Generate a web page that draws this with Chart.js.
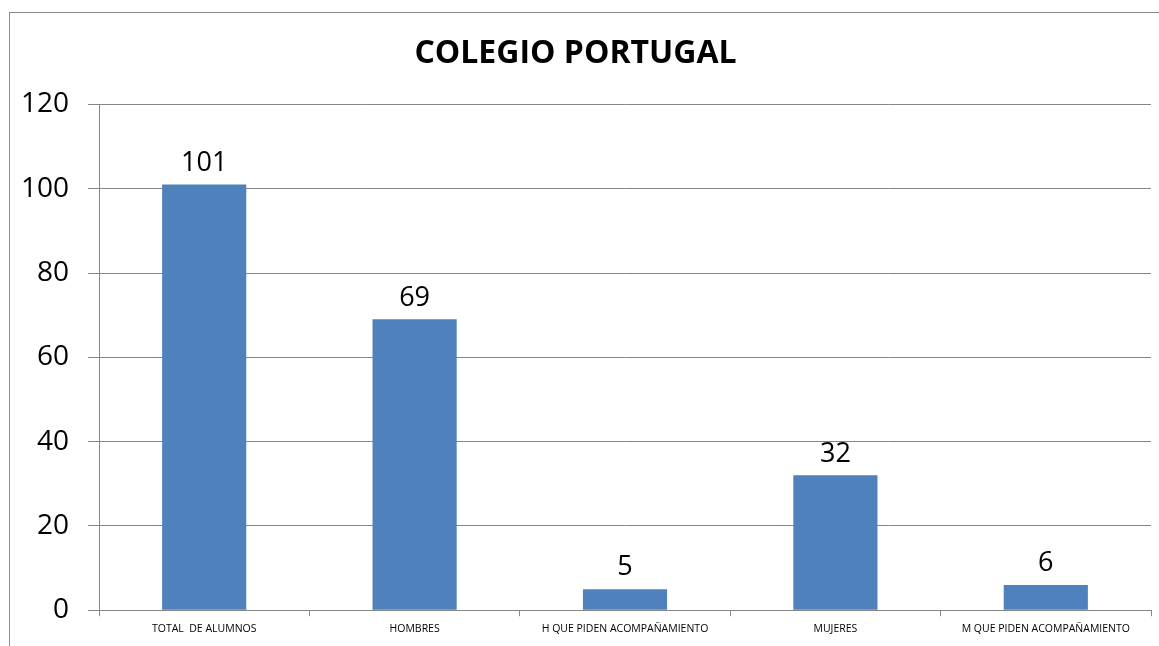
<!DOCTYPE html>
<html>
<head>
<meta charset="utf-8">
<script src="https://cdn.jsdelivr.net/npm/chart.js@4.4.1/dist/chart.umd.min.js"></script>
<style>
  html, body { margin: 0; padding: 0; background: #fff; overflow: hidden; }
  #wrap { position: relative; width: 1159px; height: 646px; }
  #frame { position: absolute; left: 9px; top: 12px; width: 1200px; height: 700px;
           border-left: 1px solid #8c8c8c; border-top: 1px solid #8c8c8c; }
  canvas { position: absolute; left: 0; top: 0; }
</style>
</head>
<body>
<div id="wrap">
  <div id="frame"></div>
  <canvas id="chart" width="1159" height="646"></canvas>
</div>
<script>
const categories = ['TOTAL  DE ALUMNOS', 'HOMBRES', 'H QUE PIDEN ACOMPAÑAMIENTO', 'MUJERES', 'M QUE PIDEN ACOMPAÑAMIENTO'];
const alumnos = [101, 69, 5, 32, 6];
const yTicks = [0, 20, 40, 60, 80, 100, 120];

const barLabels = {
  id: 'barLabels',
  afterDatasetsDraw(chart) {
    const ctx = chart.ctx;
    const meta = chart.getDatasetMeta(0);
    ctx.save();
    ctx.font = '27px "Open Sans"';
    ctx.fillStyle = '#000';
    ctx.textAlign = 'center';
    ctx.textBaseline = 'bottom';
    meta.data.forEach((bar, i) => {
      ctx.fillText(String(alumnos[i]), bar.x, bar.y - 8);
    });
    ctx.restore();
  }
};

new Chart(document.getElementById('chart'), {
  type: 'bar',
  data: {
    labels: categories,
    datasets: [{
      data: alumnos,
      backgroundColor: '#4F81BD',
      categoryPercentage: 1,
      barPercentage: 0.4
    }]
  },
  options: {
    responsive: false,
    animation: false,
    layout: { padding: { left: 0, right: 8, top: 0, bottom: 0 } },
    plugins: {
      legend: { display: false },
      tooltip: { enabled: false },
      title: {
        display: true,
        text: 'COLEGIO PORTUGAL',
        color: '#000',
        font: { family: 'Open Sans', size: 32, weight: 'bold' },
        padding: { top: 35, bottom: 31 }
      }
    },
    scales: {
      x: {
        grid: { offset: true, drawOnChartArea: false, color: '#868686', tickLength: 6 },
        border: { color: '#868686' },
        ticks: { color: '#000', font: { family: 'Open Sans', size: 10.5 }, maxRotation: 0, autoSkip: false, padding: 7 },
        afterFit(scale) { scale.height = 29; }
      },
      y: {
        min: 0,
        max: 120,
        afterBuildTicks(scale) { scale.ticks = yTicks.map((v) => ({ value: v })); },
        grid: { color: '#868686', tickLength: 11 },
        border: { color: '#868686' },
        ticks: { color: '#000', font: { family: 'Open Sans', size: 28 }, padding: 19 },
        afterFit(scale) { scale.width = 99; }
      }
    }
  },
  plugins: [barLabels]
});
</script>
</body>
</html>
